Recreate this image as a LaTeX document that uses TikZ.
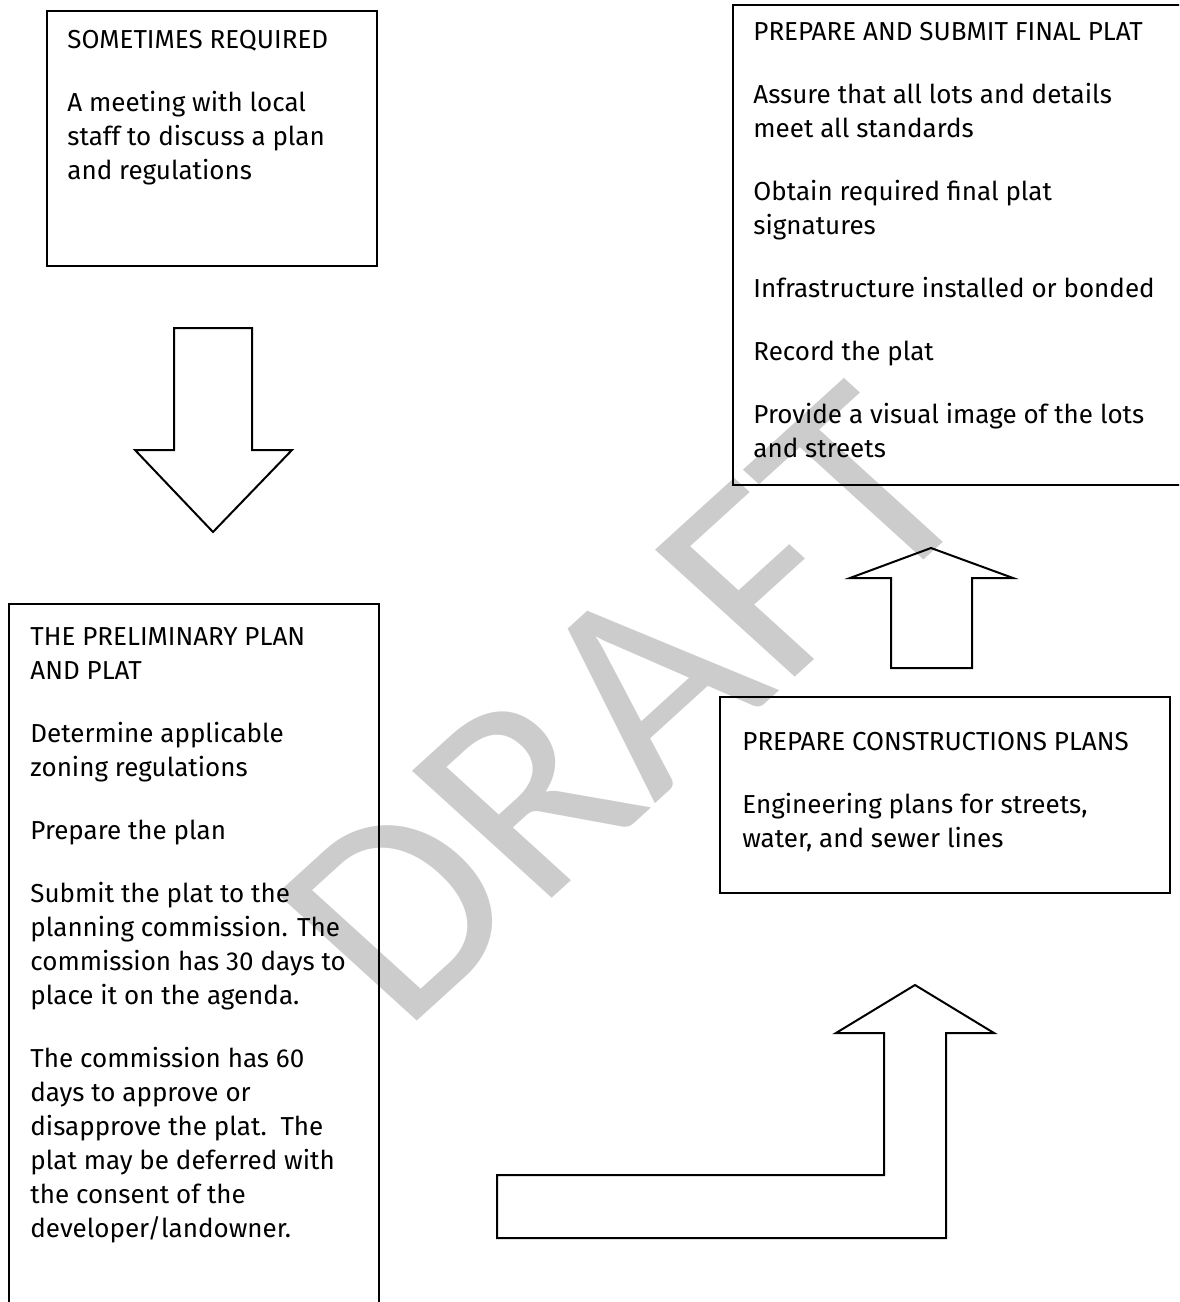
\documentclass[tikz,border=0pt]{standalone}
\usepackage{fontspec}
\setmainfont{Fira Sans}
\newfontfamily\wmfont{Carlito}
\usetikzlibrary{fit}
\definecolor{wmgray}{RGB}{204,204,204}
\tikzset{
  box/.style={draw=black, line width=1pt, inner sep=0pt},
  txt/.style={align=left, inner sep=0pt, anchor=north west, font=\fontsize{13}{17}\selectfont},
  blockarrow/.style={draw=black, line width=1pt, line join=miter},
}
\begin{document}
\begin{tikzpicture}[x=0.5pt,y=-0.5pt]
\path[use as bounding box] (0,0) rectangle (1179,1302);
\clip (0,0) rectangle (1179,1302);
% watermark
\begin{scope}[cm={1.10,0,0,1,(625,705)}]
  \node[transform shape, rotate=45, inner sep=0pt, text=wmgray,
        font=\wmfont\fontsize{140}{142}\selectfont] (draft) at (0,0) {DRAFT};
\end{scope}
% boxes
\node[box, fit={(47,11) (377,266)}] (b1) {};
\node[txt] (t1) at (67,30) {SOMETIMES REQUIRED\\[14.5pt]
A meeting with local\\
staff to discuss a plan\\
and regulations};

\node[box, fit={(733,5) (1200,485)}] (b2) {};
\node[txt] (t2) at (753,22) {PREPARE AND SUBMIT FINAL PLAT\\[14.5pt]
Assure that all lots and details\\
meet all standards\\[14.5pt]
Obtain required final plat\\
signatures\\[14.5pt]
Infrastructure installed or bonded\\[14.5pt]
Record the plat\\[14.5pt]
Provide a visual image of the lots\\
and streets};

\node[box, fit={(9,604) (379,1330)}] (b3) {};
\node[txt] (t3) at (30,627) {THE PRELIMINARY PLAN\\
AND PLAT\\[14.5pt]
Determine applicable\\
zoning regulations\\[14.5pt]
Prepare the plan\\[14.5pt]
Submit the plat to the\\
planning commission. The\\
commission has 30 days to\\
place it on the agenda.\\[14.5pt]
The commission has 60\\
days to approve or\\
disapprove the plat.\ \ The\\
plat may be deferred with\\
the consent of the\\
developer/landowner.};

\node[box, fit={(720,697) (1170,893)}] (b4) {};
\node[txt] (t4) at (742,732) {PREPARE CONSTRUCTIONS PLANS\\[14.5pt]
Engineering plans for streets,\\
water, and sewer lines};

% block arrows
\draw[blockarrow] (174,328) -- (252,328) -- (252,450) -- (292,450) -- (213,532)
  -- (135,450) -- (174,450) -- cycle;
\draw[blockarrow] (891,668) -- (972,668) -- (972,578) -- (1013,578) -- (931,548)
  -- (850,578) -- (891,578) -- cycle;
\draw[blockarrow] (497,1175) -- (884,1175) -- (884,1033) -- (836,1033) -- (915,985)
  -- (994,1033) -- (946,1033) -- (946,1238) -- (497,1238) -- cycle;
\end{tikzpicture}
\end{document}
